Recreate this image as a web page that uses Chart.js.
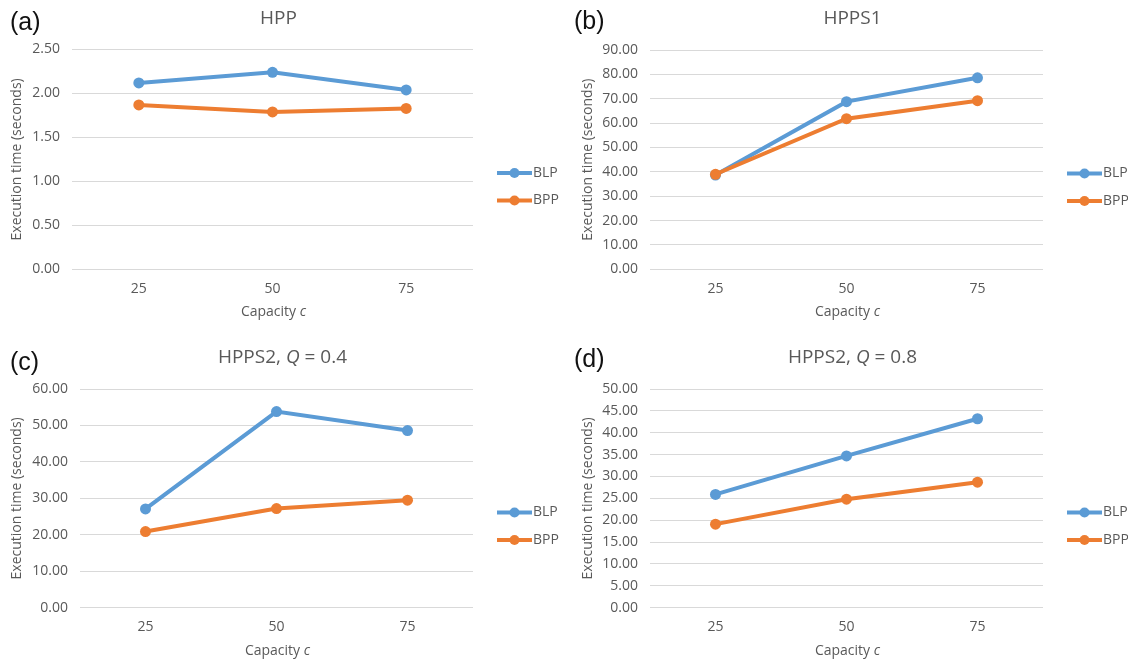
<!DOCTYPE html>
<html>
<head>
<meta charset="utf-8">
<script src="https://cdn.jsdelivr.net/npm/chart.js@4.4.1/dist/chart.umd.min.js"></script>
<style>
  html, body { margin: 0; padding: 0; background: #fff; }
  #wrap { position: relative; width: 1128px; height: 661px; overflow: hidden; }
  #wrap canvas { position: absolute; }
  .tag { position: absolute; font: 25px "Liberation Sans", Arial, sans-serif; color: #111; line-height: 1; }
</style>
</head>
<body>
<div id="wrap">
  <canvas id="c0" width="564" height="330" style="left:0;top:0"></canvas>
  <canvas id="c1" width="564" height="330" style="left:564px;top:0"></canvas>
  <canvas id="c2" width="564" height="331" style="left:0;top:330px"></canvas>
  <canvas id="c3" width="564" height="331" style="left:564px;top:330px"></canvas>
  <div class="tag" style="left:10px;top:9px">(a)</div>
  <div class="tag" style="left:574px;top:8px">(b)</div>
  <div class="tag" style="left:10px;top:349px">(c)</div>
  <div class="tag" style="left:574px;top:346px">(d)</div>
</div>
<script>
// Execution times (seconds)
const capacities = ['25', '50', '75'];
const seriesNames = ['BLP', 'BPP'];

const hppBLP = [2.12, 2.24, 2.04];
const hppBPP = [1.87, 1.79, 1.83];

const hpps1BLP = [38.7, 68.8, 78.6];
const hpps1BPP = [39.0, 61.8, 69.2];

const hpps2q04BLP = [27.1, 53.8, 48.6];
const hpps2q04BPP = [20.9, 27.2, 29.5];

const hpps2q08BLP = [25.9, 34.7, 43.2];
const hpps2q08BPP = [19.1, 24.8, 28.7];

// y axis ranges per panel
const yMax = [2.5, 90, 60, 50];
const yStep = [0.5, 10, 10, 5];

const BLUE = '#5B9BD5';
const ORANGE = '#ED7D31';
const TEXT = '#595959';
const FONT = '"Open Sans", "Noto Sans", sans-serif';

// panel titles, italic parts marked
const panelTitles = [
    [{ t: 'HPP' }],
    [{ t: 'HPPS1' }],
    [{ t: 'HPPS2, ' }, { t: 'Q', i: true }, { t: ' = 0.4' }],
    [{ t: 'HPPS2, ' }, { t: 'Q', i: true }, { t: ' = 0.8' }]
];
const xTitle = [{ t: 'Capacity ' }, { t: 'c', i: true }];

const panelData = [
    [hppBLP, hppBPP],
    [hpps1BLP, hpps1BPP],
    [hpps2q04BLP, hpps2q04BPP],
    [hpps2q08BLP, hpps2q08BPP]
];

// plot area inside each canvas: left, right, top, bottom
const plotBox = [
    { l: 72, r: 473, t: 49.5, b: 269.3, yTitle: 9 },
    { l: 86, r: 479, t: 50, b: 269.3, yTitle: 16 },
    { l: 80, r: 473, t: 59, b: 277.7, yTitle: 9 },
    { l: 86, r: 479, t: 59, b: 277.7, yTitle: 16 }
];

// draw text made of normal/italic pieces centred on cx
function drawRich(ctx, parts, cx, cy, size) {
    let total = 0;
    parts.forEach(p => {
        ctx.font = (p.i ? 'italic ' : '') + size + 'px ' + FONT;
        p.w = ctx.measureText(p.t).width;
        total += p.w;
    });
    let x = cx - total / 2;
    ctx.textAlign = 'left';
    ctx.textBaseline = 'middle';
    parts.forEach(p => {
        ctx.font = (p.i ? 'italic ' : '') + size + 'px ' + FONT;
        ctx.fillText(p.t, x, cy);
        x += p.w;
    });
}

// title, x axis title and Excel-style legend
const panelText = {
    id: 'panelText',
    afterDraw(chart, args, opts) {
        const ctx = chart.ctx;
        const a = chart.chartArea;
        const mid = (a.left + a.right) / 2;
        ctx.save();
        ctx.fillStyle = TEXT;
        drawRich(ctx, opts.title, mid + 6, a.top - 31, 19);
        drawRich(ctx, xTitle, mid + 1, a.bottom + 43, 14);

        chart.data.datasets.forEach((ds, i) => {
            const y = a.top + 123.5 + i * 27.5;
            const x0 = a.right + 24;
            const x1 = a.right + 59;
            ctx.strokeStyle = ds.borderColor;
            ctx.lineWidth = 4;
            ctx.beginPath();
            ctx.moveTo(x0, y);
            ctx.lineTo(x1, y);
            ctx.stroke();
            ctx.fillStyle = ds.borderColor;
            ctx.beginPath();
            ctx.arc((x0 + x1) / 2, y, 5, 0, Math.PI * 2);
            ctx.fill();
            ctx.fillStyle = TEXT;
            ctx.font = '14px ' + FONT;
            ctx.textAlign = 'left';
            ctx.textBaseline = 'middle';
            ctx.fillText(ds.label, x1 + 1, y);
        });
        ctx.restore();
    }
};

function makePanel(idx) {
    const canvas = document.getElementById('c' + idx);
    const box = plotBox[idx];
    const W = canvas.width;
    const H = canvas.height;
    const colors = [BLUE, ORANGE];

    return new Chart(canvas.getContext('2d'), {
        type: 'line',
        data: {
            labels: capacities,
            datasets: panelData[idx].map((vals, i) => ({
                label: seriesNames[i],
                data: vals,
                borderColor: colors[i],
                backgroundColor: colors[i],
                borderWidth: 4,
                pointRadius: 5.5,
                pointBorderWidth: 0,
                pointBackgroundColor: colors[i],
                tension: 0,
                fill: false,
                order: 1 - i
            }))
        },
        options: {
            responsive: false,
            animation: false,
            layout: {
                padding: { top: box.t, right: W - box.r, bottom: H - box.b - 40, left: 0 }
            },
            scales: {
                x: {
                    offset: true,
                    grid: { display: false, drawTicks: false },
                    border: { display: false },
                    ticks: { color: TEXT, font: { family: FONT, size: 14 }, padding: 11 },
                    afterFit(scale) { scale.height = 40; }
                },
                y: {
                    min: 0,
                    max: yMax[idx],
                    grid: { color: '#D9D9D9', lineWidth: 1, drawTicks: false },
                    border: { display: false },
                    ticks: {
                        stepSize: yStep[idx],
                        color: TEXT,
                        font: { family: FONT, size: 14 },
                        padding: 12,
                        callback: v => v.toFixed(2)
                    },
                    title: {
                        display: true,
                        text: 'Execution time (seconds)',
                        color: TEXT,
                        font: { family: FONT, size: 14 },
                        padding: { top: box.yTitle, bottom: 0 }
                    },
                    afterFit(scale) { scale.width = box.l; }
                }
            },
            plugins: {
                legend: { display: false },
                tooltip: { enabled: false },
                panelText: { title: panelTitles[idx] }
            }
        },
        plugins: [panelText]
    });
}

document.addEventListener('DOMContentLoaded', function() {
    for (let i = 0; i < 4; i++) makePanel(i);
});
</script>
</body>
</html>
